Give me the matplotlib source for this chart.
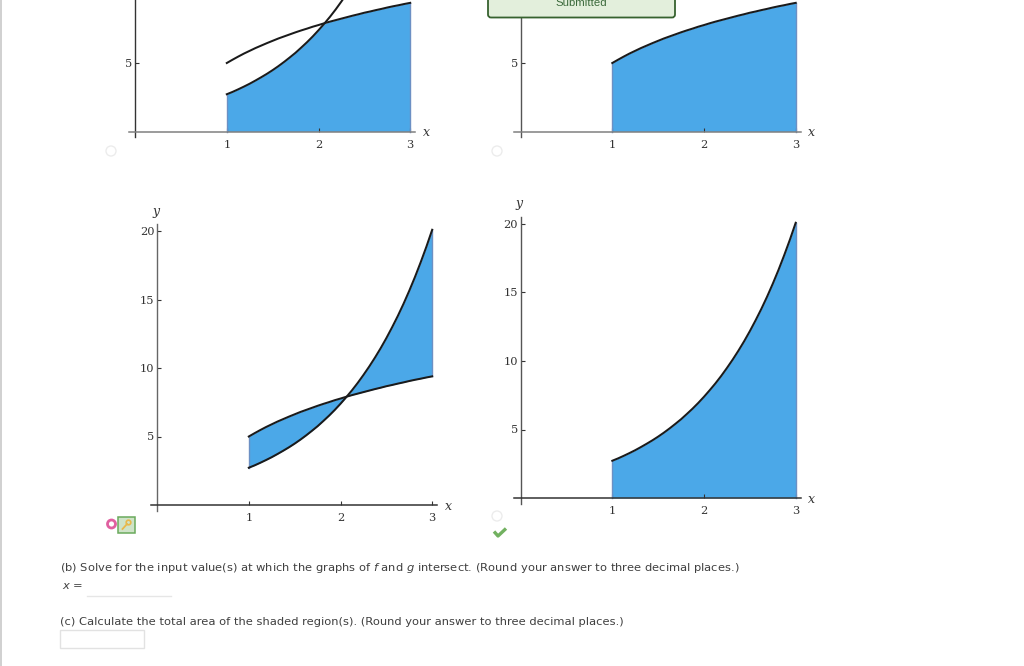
import matplotlib
matplotlib.use('Agg')
import matplotlib.pyplot as plt
from matplotlib.patches import Circle, FancyBboxPatch, Rectangle

plt.rcParams['mathtext.fontset'] = 'dejavusans'

W, H = 1024, 666

# values
x_vals = [1, 1.0625, 1.125, 1.1875, 1.25, 1.3125, 1.375, 1.4375, 1.5, 1.5625, 1.625, 1.6875, 1.75, 1.8125, 1.875,
          1.9375, 2, 2.0625, 2.125, 2.1875, 2.25, 2.3125, 2.375, 2.4375, 2.5, 2.5625, 2.625, 2.6875, 2.75, 2.8125,
          2.875, 2.9375, 3]
f_vals = [5.0, 5.24, 5.47, 5.69, 5.89, 6.09, 6.27, 6.45, 6.62, 6.79, 6.94, 7.09, 7.24, 7.38, 7.51,
          7.65, 7.77, 7.90, 8.02, 8.13, 8.24, 8.35, 8.46, 8.56, 8.67, 8.76, 8.86, 8.95, 9.05, 9.14,
          9.22, 9.31, 9.39]
g_vals = [2.72, 2.89, 3.08, 3.28, 3.49, 3.72, 3.96, 4.21, 4.48, 4.77, 5.08, 5.41, 5.75, 6.13, 6.52,
          6.94, 7.39, 7.87, 8.37, 8.91, 9.49, 10.10, 10.75, 11.44, 12.18, 12.97, 13.80, 14.69, 15.64, 16.65,
          17.73, 18.87, 20.09]
x_ticks = [1, 2, 3]

FILL = '#4ba8e8'
EDGE = '#6c90c4'
TEXT = '#333333'
CURVE = '#1a1a1a'

fig = plt.figure(figsize=(W / 100, H / 100), dpi=100)


def make_axes(x0, y0, ymax, yticks, xcolor, ycolor, lab_y=None):
    """x0, y0 are the pixels of the origin"""
    sx, sy = 91.7, 13.7
    left, right = x0 - 6.5, x0 + 280
    bottom, top = y0 + 5.5, y0 - ymax * sy
    ax = fig.add_axes([left / W, 1 - bottom / H, (right - left) / W, (bottom - top) / H])
    ax.set_xlim(-6.5 / sx, 280 / sx)
    ax.set_ylim(-5.5 / sy, ymax)
    ax.patch.set_visible(False)
    for s in ['top', 'right']:
        ax.spines[s].set_visible(False)
    ax.spines['left'].set_position(('data', 0))
    ax.spines['bottom'].set_position(('data', 0))
    ax.spines['left'].set_color(ycolor)
    ax.spines['bottom'].set_color(xcolor)
    ax.spines['left'].set_linewidth(1.0)
    ax.spines['bottom'].set_linewidth(1.1)
    ax.set_xticks(x_ticks)
    ax.set_yticks(yticks)
    ax.tick_params(axis='both', direction='in', length=3, width=0.8, color='#333333',
                   labelsize=8.2, labelcolor=TEXT)
    ax.tick_params(axis='x', pad=6)
    ax.tick_params(axis='y', pad=2)
    for t in ax.get_xticklabels() + ax.get_yticklabels():
        t.set_family('DejaVu Serif')
    ax.text(291 / sx, -1.5 / sy, 'x', family='DejaVu Serif', style='italic',
            fontsize=9, color=TEXT, ha='center', va='center', clip_on=False)
    if lab_y is not None:
        ax.text(-1.5 / sx, (y0 - lab_y) / sy, 'y', family='DejaVu Serif', style='italic',
                fontsize=9, color=TEXT, ha='center', va='center', clip_on=False)
    return ax


def edges(ax, lo1, hi1, lo2, hi2):
    ax.plot([1, 1], [lo1, hi1], color=EDGE, lw=1.0, zorder=2)
    ax.plot([3, 3], [lo2, hi2], color=EDGE, lw=1.0, zorder=2)


# top left: below both curves
ax = make_axes(135.1, 131.5, 9.6, [5], '#808080', '#333333')
low = [min(a, b) for a, b in zip(f_vals, g_vals)]
ax.fill_between(x_vals, 0, low, color=FILL, lw=0, zorder=1)
edges(ax, 0, g_vals[0], 0, f_vals[-1])
ax.plot(x_vals, f_vals, color=CURVE, lw=1.45, zorder=3)
ax.plot(x_vals, g_vals, color=CURVE, lw=1.45, zorder=3)

# top right: below f
ax = make_axes(520.6, 131.5, 9.6, [5], '#808080', '#555555')
ax.fill_between(x_vals, 0, f_vals, color=FILL, lw=0, zorder=1)
edges(ax, 0, f_vals[0], 0, f_vals[-1])
ax.plot(x_vals, f_vals, color=CURVE, lw=1.45, zorder=3)

# bottom left: between the curves
ax = make_axes(157.1, 505, 20.5, [5, 10, 15, 20], '#333333', '#666666', lab_y=211)
ax.fill_between(x_vals, f_vals, g_vals, color=FILL, lw=0, zorder=1, interpolate=True)
edges(ax, g_vals[0], f_vals[0], f_vals[-1], g_vals[-1])
ax.plot(x_vals, f_vals, color=CURVE, lw=1.45, zorder=3)
ax.plot(x_vals, g_vals, color=CURVE, lw=1.45, zorder=3)

# bottom right: below g
ax = make_axes(520.6, 498, 20.5, [5, 10, 15, 20], '#333333', '#555555', lab_y=204)
ax.fill_between(x_vals, 0, g_vals, color=FILL, lw=0, zorder=1)
edges(ax, 0, g_vals[0], 0, g_vals[-1])
ax.plot(x_vals, g_vals, color=CURVE, lw=1.45, zorder=3)

# page furniture, in pixels
ui = fig.add_axes([0, 0, 1, 1], zorder=10)
ui.set_xlim(0, W)
ui.set_ylim(H, 0)
ui.axis('off')
ui.plot([0.5, 0.5], [0, H], color='#c8c8c8', lw=1.2)

ui.add_patch(FancyBboxPatch((488, -12), 187, 29.5, boxstyle='round,pad=0,rounding_size=3',
                            fc='#e3efdc', ec='#37622f', lw=1.3))
ui.text(581.5, 3.5, 'Submitted', family='Liberation Sans', fontsize=8.2, color='#3c6a3c',
        ha='center', va='center')

for cx, cy in [(111, 151), (497, 151), (497, 516)]:
    ui.add_patch(Circle((cx, cy), 5, fc='white', ec='#ececec', lw=1))
ui.add_patch(Circle((111.5, 524), 4, fc='white', ec='#e060a0', lw=2))
ui.add_patch(Rectangle((117.5, 516.5), 17, 16.5, fc='#cfe3c8', ec='#6aaa5c', lw=1.1))
ui.add_patch(Circle((128.5, 522.5), 2.3, fc='none', ec='#e8b84a', lw=1.2))
ui.plot([127, 122.5], [524, 529], color='#e8b84a', lw=1.3)
ui.plot([494, 498, 506], [531.5, 536, 528.5], color='#72b160', lw=2.4, solid_capstyle='butt')

BODY = dict(family='DejaVu Sans', fontsize=8.28, color='#404040', va='center', ha='left')
ui.text(60, 568, r'(b) Solve for the input value(s) at which the graphs of $\mathit{f}$ and $\mathit{g}$ '
        'intersect. (Round your answer to three decimal places.)', **BODY)
ui.text(62, 586, r'$\mathit{x}$ =', **BODY)
ui.plot([87, 171], [595.5, 595.5], color='#e6e6e6', lw=1)
ui.text(60, 622, '(c) Calculate the total area of the shaded region(s). (Round your answer to three decimal places.)', **BODY)
ui.add_patch(Rectangle((60, 630), 83.5, 18, fc='white', ec='#e2e2e2', lw=1))

fig.savefig('out.png', dpi=100)
